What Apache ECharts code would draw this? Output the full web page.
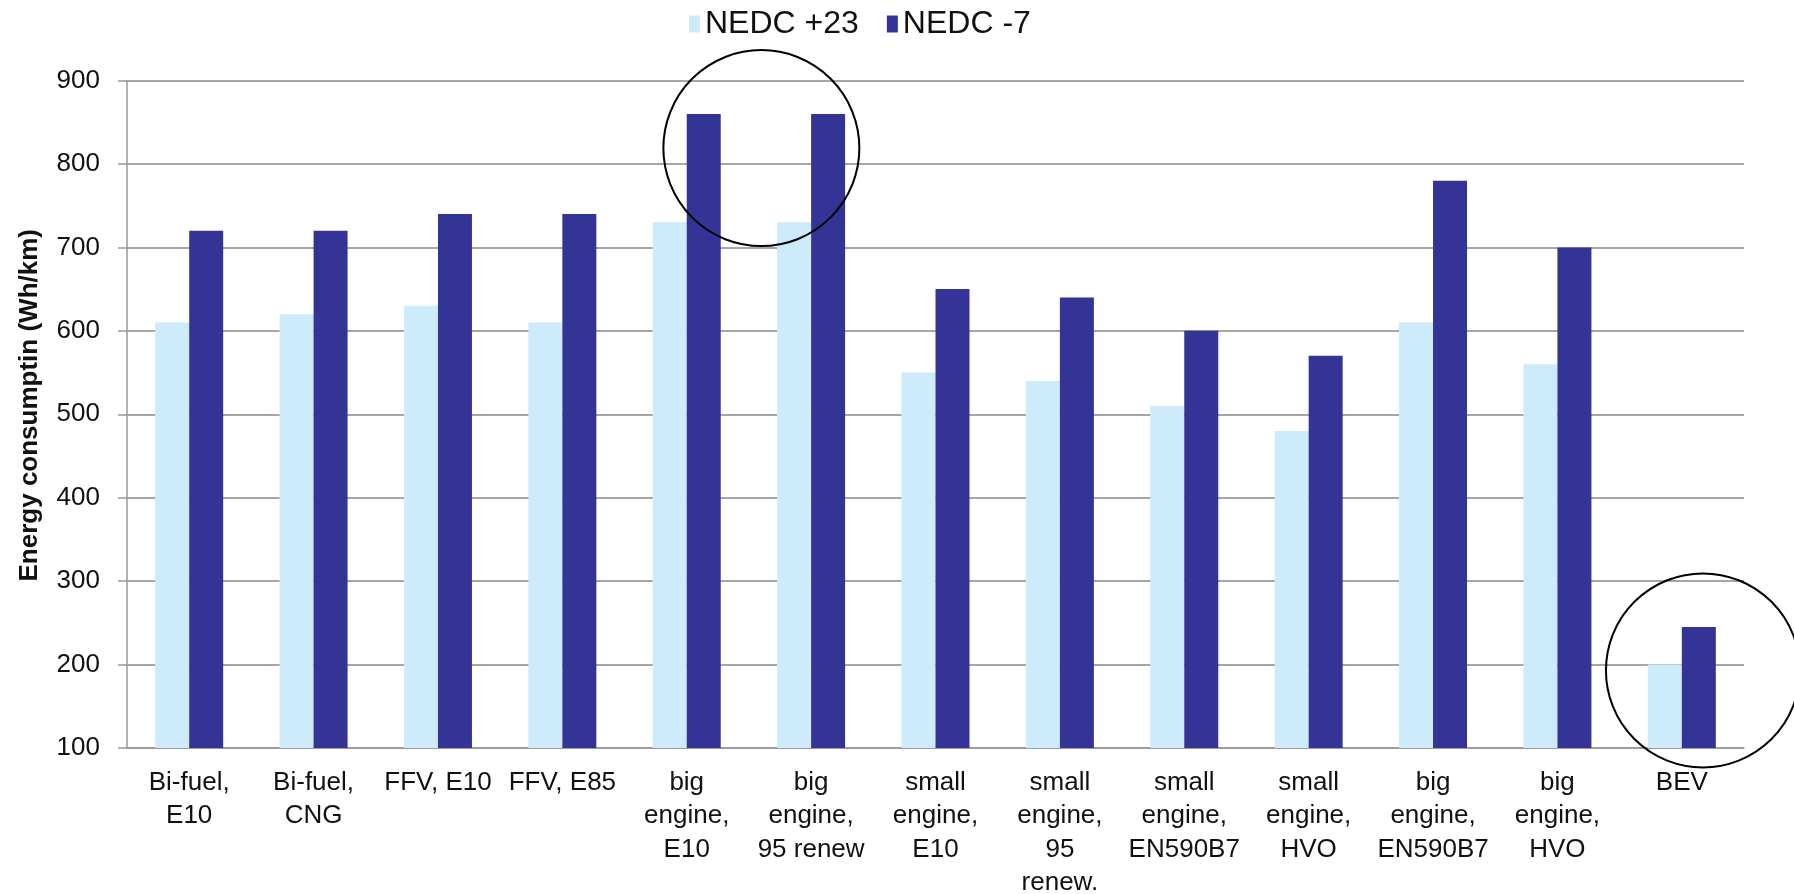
<!DOCTYPE html>
<html>
<head>
<meta charset="utf-8">
<script src="https://cdn.jsdelivr.net/npm/echarts@6/dist/echarts.min.js"></script>
<style>
  html, body { margin: 0; padding: 0; background: #ffffff; }
  #chart { width: 1794px; height: 894px; }
</style>
</head>
<body>
<div id="chart"></div>
<script>
// Vehicle / fuel combinations on the category axis
const categories = [
  'Bi-fuel,\nE10', 'Bi-fuel,\nCNG', 'FFV, E10', 'FFV, E85',
  'big\nengine,\nE10', 'big\nengine,\n95 renew',
  'small\nengine,\nE10', 'small\nengine,\n95\nrenew.',
  'small\nengine,\nEN590B7', 'small\nengine,\nHVO',
  'big\nengine,\nEN590B7', 'big\nengine,\nHVO', 'BEV'
];

// Energy consumption (Wh/km) at +23 °C and -7 °C NEDC
const nedcWarm = [610, 620, 630, 610, 730, 730, 550, 540, 510, 480, 610, 560, 200];
const nedcCold = [720, 720, 740, 740, 860, 860, 650, 640, 600, 570, 780, 700, 245];

const seriesNames = ['NEDC +23', 'NEDC -7'];

// Value-axis range and step
const yMin = 100;
const yMax = 900;
const yStep = 100;

const FONT = 'Arial, "Liberation Sans", sans-serif';
const chart = echarts.init(document.getElementById('chart'));

chart.setOption({
  animation: false,
  backgroundColor: '#ffffff',
  legend: {
    top: 3,
    left: 684,
    itemWidth: 11,
    itemHeight: 17,
    itemGap: 28,
    icon: 'rect',
    textStyle: { fontFamily: FONT, fontSize: 32, color: '#111' },
    data: seriesNames
  },
  grid: { left: 127, right: 50, top: 80.5, bottom: 146, outerBoundsMode: 'none', containLabel: false },
  xAxis: {
    type: 'category',
    data: categories,
    axisLine: { lineStyle: { color: '#999999', width: 1.5 } },
    axisTick: { length: 6, lineStyle: { color: '#999999', width: 1.5 } },
    axisLabel: {
      interval: 0,
      hideOverlap: false,
      margin: 18,
      fontFamily: FONT,
      fontSize: 26,
      lineHeight: 33.5,
      color: '#111'
    }
  },
  yAxis: {
    type: 'value',
    min: yMin,
    max: yMax,
    interval: yStep,
    name: 'Energy consumptin (Wh/km)',
    nameLocation: 'middle',
    nameGap: 84,
    nameTextStyle: {
      fontFamily: FONT, fontSize: 26, fontWeight: 'bold', color: '#111',
      padding: [0, 0, 0, 18]
    },
    axisLine: { show: true, lineStyle: { color: '#999999', width: 1.5 } },
    axisTick: { show: true, inside: false, length: 9, lineStyle: { color: '#999999', width: 1.5 } },
    axisLabel: { margin: 27, fontFamily: FONT, fontSize: 26, color: '#111' },
    splitLine: { lineStyle: { color: '#a6a6a6', width: 2 } }
  },
  series: [
    {
      name: seriesNames[0],
      type: 'bar',
      data: nedcWarm,
      barWidth: 34,
      barGap: '0%',
      itemStyle: { color: '#cdebfb' }
    },
    {
      name: seriesNames[1],
      type: 'bar',
      data: nedcCold,
      barWidth: 34,
      barGap: '0%',
      itemStyle: { color: '#343497' }
    }
  ]
});

// Hand-drawn style highlight rings, anchored in data space
const rings = [
  { x: 4.6, y: 819, r: 98 },
  { x: 12.17, y: 193, r: 97 }
];
const ringGraphics = rings.map(function (ring) {
  const x0 = chart.convertToPixel({ xAxisIndex: 0 }, Math.floor(ring.x));
  const x1 = chart.convertToPixel({ xAxisIndex: 0 }, Math.floor(ring.x) + 1);
  const cx = x0 + (x1 - x0) * (ring.x - Math.floor(ring.x));
  const cy = chart.convertToPixel({ yAxisIndex: 0 }, ring.y);
  return {
    type: 'circle',
    shape: { cx: cx, cy: cy, r: ring.r },
    style: { fill: null, stroke: '#000000', lineWidth: 2 },
    z: 100
  };
});
chart.setOption({ graphic: ringGraphics });
</script>
</body>
</html>
